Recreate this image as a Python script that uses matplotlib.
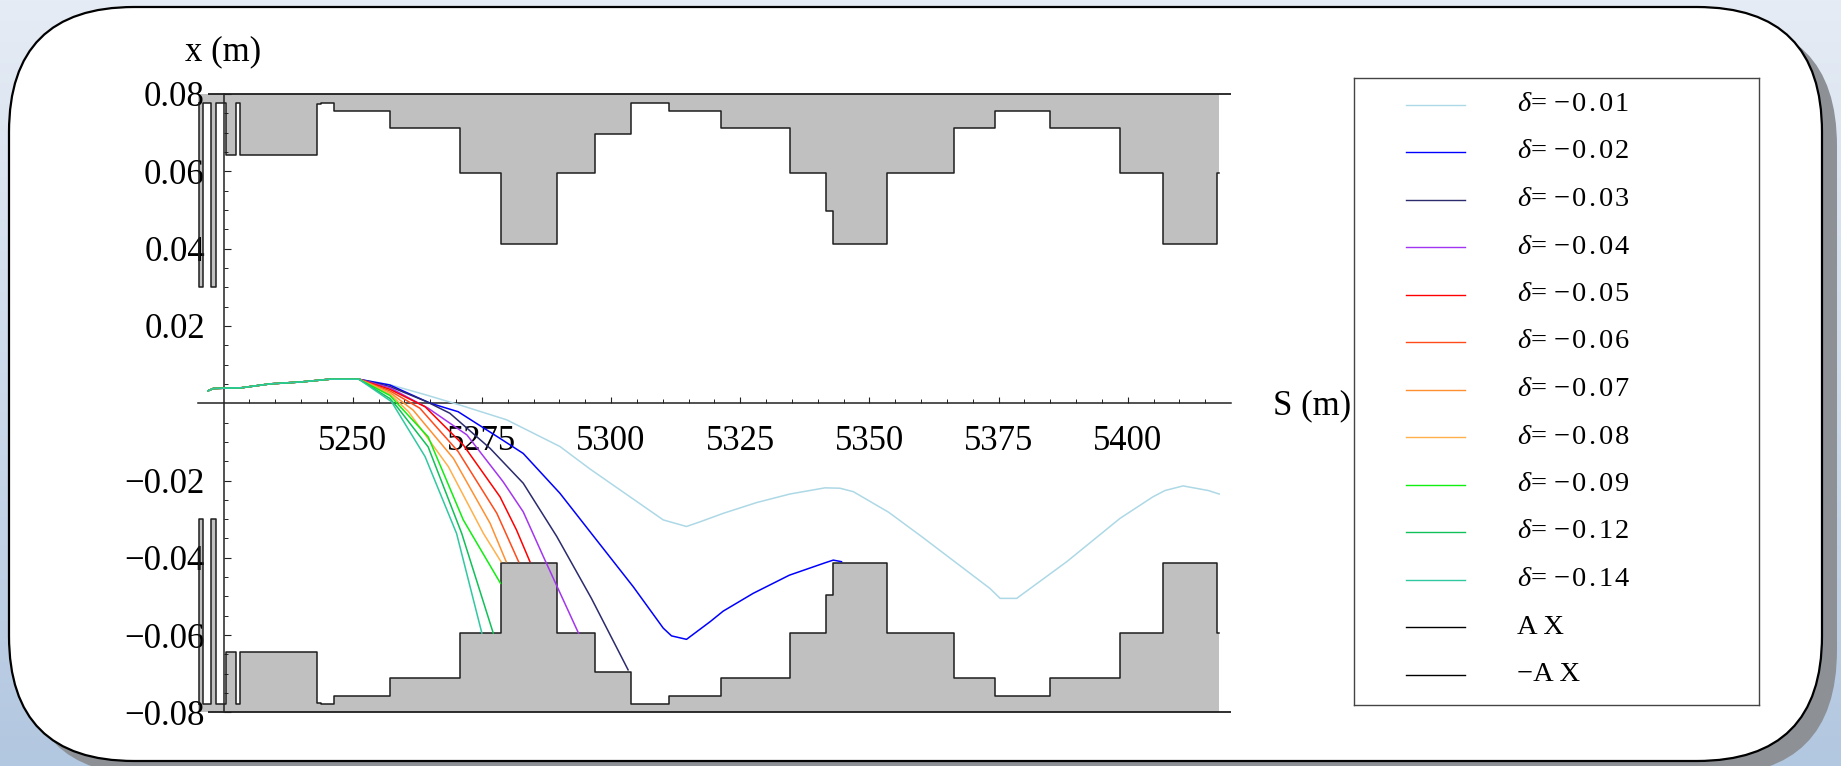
import numpy as np
import matplotlib
matplotlib.use("Agg")
import matplotlib.pyplot as plt
from matplotlib.patches import FancyBboxPatch
from matplotlib.ticker import FixedLocator, FuncFormatter
import matplotlib.transforms as mtransforms

plt.rcParams['font.family'] = ['Liberation Serif', 'DejaVu Serif']
plt.rcParams['mathtext.fontset'] = 'custom'
plt.rcParams['mathtext.rm'] = 'Liberation Serif'
plt.rcParams['mathtext.it'] = 'Liberation Serif:italic'

# ---------------- aperture AX(s) (step function, value holds until next s) ----
ap_s = [5220.0, 5220.3, 5221.0, 5222.5, 5223.5, 5225.4, 5227.35, 5228.2, 5243.0,
        5243.9, 5246.45, 5257.2, 5270.8, 5278.65, 5289.5, 5296.9, 5303.9, 5311.2,
        5321.2, 5334.7, 5341.6, 5342.9, 5353.4, 5366.45, 5374.3, 5385.0, 5398.5,
        5406.8, 5417.3, 5417.7]
ap_x = [0.0778, 0.030, 0.0778, 0.030, 0.0778, 0.0643, 0.0778, 0.0643, 0.0775,
        0.0778, 0.0757, 0.0711, 0.0595, 0.0413, 0.0595, 0.0696, 0.0778, 0.0757,
        0.0711, 0.0595, 0.0497, 0.0413, 0.0595, 0.0711, 0.0757, 0.0711, 0.0595,
        0.0413, 0.0595, 0.0595]
pipe_half = 0.08

# ---------------- closed-orbit offset shared by all energies --------------------
s_common = [5222.0, 5223.0, 5228.5, 5234.0, 5240.0, 5245.5, 5251.2]
x_common = [0.0032, 0.0038, 0.0040, 0.0050, 0.0055, 0.0062, 0.0062]

# ---------------- off-momentum trajectories after the kick ----------------------
s_d01 = [5257.2, 5264.3, 5270.8, 5279.8, 5290.1, 5295.9, 5310.1, 5314.6, 5317.2,
         5321.7, 5328.2, 5334.6, 5341.4, 5344.3, 5346.9, 5353.7, 5360.1, 5373.3,
         5375.3, 5378.5, 5388.2, 5398.5, 5404.9, 5407.2, 5410.7, 5415.6, 5417.7]
x_d01 = [0.0048, 0.0021, -0.0005, -0.0043, -0.0112, -0.0170, -0.0302, -0.0319, -0.0307,
         -0.0285, -0.0257, -0.0235, -0.0219, -0.0220, -0.0229, -0.0282, -0.0345, -0.0479,
         -0.0505, -0.0505, -0.0410, -0.0298, -0.0242, -0.0226, -0.0214, -0.0226, -0.0235]

s_d02 = [5257.2, 5265.0, 5270.4, 5278.5, 5283.0, 5290.1, 5295.9, 5304.3, 5310.1,
         5311.7, 5314.6, 5319.2, 5321.7, 5327.5, 5334.5, 5341.4, 5343.0, 5344.6]
x_d02 = [0.0047, 0.0000, -0.0022, -0.0091, -0.0130, -0.0233, -0.0332, -0.0475, -0.0582,
         -0.0602, -0.0611, -0.0565, -0.0538, -0.0492, -0.0445, -0.0413, -0.0406, -0.0410]

s_d03 = [5257.2, 5264.3, 5268.8, 5276.6, 5283.0, 5289.5, 5296.2, 5303.3]
x_d03 = [0.0043, 0.0004, -0.0026, -0.0117, -0.0207, -0.0345, -0.0505, -0.0690]

s_d04 = [5257.2, 5264.6, 5272.1, 5279.1, 5283.0, 5286.9, 5293.7]
x_d04 = [0.0040, -0.0013, -0.0082, -0.0203, -0.0281, -0.0397, -0.0595]

s_d05 = [5257.2, 5264.0, 5271.4, 5278.5, 5281.7, 5284.3]
x_d05 = [0.0036, -0.0009, -0.0108, -0.0242, -0.0328, -0.0410]

s_d06 = [5257.2, 5263.0, 5270.4, 5277.9, 5282.1]
x_d06 = [0.0032, -0.0013, -0.0125, -0.0285, -0.0410]

s_d07 = [5257.2, 5261.7, 5269.5, 5276.6, 5279.7]
x_d07 = [0.0028, -0.0018, -0.0143, -0.0311, -0.0410]

s_d08 = [5257.2, 5260.8, 5268.5, 5275.3, 5278.7]
x_d08 = [0.0024, -0.0022, -0.0164, -0.0337, -0.0410]

s_d09 = [5257.2, 5260.1, 5264.6, 5271.4, 5278.6]
x_d09 = [0.0020, -0.0022, -0.0087, -0.0302, -0.0466]

s_d12 = [5257.2, 5258.8, 5264.6, 5271.1, 5277.2]
x_d12 = [0.0012, -0.0013, -0.0113, -0.0337, -0.0595]

s_d14 = [5257.5, 5264.0, 5270.1, 5275.0]
x_d14 = [0.0004, -0.0138, -0.0337, -0.0595]

delta_labels = ['\u22120.01', '\u22120.02', '\u22120.03', '\u22120.04', '\u22120.05',
                '\u22120.06', '\u22120.07', '\u22120.08', '\u22120.09', '\u22120.12',
                '\u22120.14']
delta_colors = ['#add8e6', '#0000ff', '#2b2b6e', '#a335f0', '#ff0000', '#ff4a1a',
                '#ff9030', '#ffb04a', '#10ee10', '#10c058', '#30c8a0']
traj_s = [s_d01, s_d02, s_d03, s_d04, s_d05, s_d06, s_d07, s_d08, s_d09, s_d12, s_d14]
traj_x = [x_d01, x_d02, x_d03, x_d04, x_d05, x_d06, x_d07, x_d08, x_d09, x_d12, x_d14]

x_major = [5250, 5275, 5300, 5325, 5350, 5375, 5400]
y_major = [-0.08, -0.06, -0.04, -0.02, 0.02, 0.04, 0.06, 0.08]

# ---------------- canvas --------------------------------------------------------
W, H = 1841, 766
fig = plt.figure(figsize=(W / 100, H / 100), dpi=100)

bg = fig.add_axes([0, 0, 1, 1])
bg.set_xlim(0, W)
bg.set_ylim(H, 0)
bg.axis('off')
top_c = np.array([230, 236, 245]) / 255
bot_c = np.array([178, 199, 224]) / 255
t = np.linspace(0, 1, H)[:, None, None]
grad = top_c[None, None, :] * (1 - t) + bot_c[None, None, :] * t
bg.imshow(grad, extent=[0, W, H, 0], aspect='auto', zorder=0)
bx, by, bw, bh, rad = 9, 7, 1813, 754, 125
bg.add_patch(FancyBboxPatch((bx + 15, by + 14), bw, bh,
                            boxstyle=f'round,pad=0,rounding_size={rad}',
                            fc='#8d9196', ec='none', zorder=1))
bg.add_patch(FancyBboxPatch((bx, by), bw, bh,
                            boxstyle=f'round,pad=0,rounding_size={rad}',
                            fc='white', ec='black', lw=1.6, zorder=2))

# ---------------- main plot -----------------------------------------------------
x0, x1, y0, y1 = 197.7, 1231.1, 94.0, 712.4
ax = fig.add_axes([x0 / W, 1 - y1 / H, (x1 - x0) / W, (y1 - y0) / H])
ax.patch.set_alpha(0)
ax.set_xlim(5220, 5420)
ax.set_ylim(-pipe_half, pipe_half)

ap_s_arr = np.array(ap_s)
ap_x_arr = np.array(ap_x)
ax.fill_between(ap_s_arr, ap_x_arr, pipe_half, step='post', color='#c0c0c0', lw=0, zorder=1)
ax.fill_between(ap_s_arr, -ap_x_arr, -pipe_half, step='post', color='#c0c0c0', lw=0, zorder=1)
ax.step(ap_s_arr, ap_x_arr, where='post', color='#1e1e1e', lw=1.1, zorder=2)
ax.step(ap_s_arr, -ap_x_arr, where='post', color='#1e1e1e', lw=1.1, zorder=2)
ax.hlines([pipe_half, -pipe_half], 5222.0, 5420, color='#1e1e1e', lw=1.3,
          zorder=2, clip_on=False)

lines = []
for s_part, x_part, col in zip(traj_s, traj_x, delta_colors):
    ln, = ax.plot(s_common + s_part, x_common + x_part, color=col, lw=1.1, zorder=3)
    lines.append(ln)

for side in ('top', 'right'):
    ax.spines[side].set_visible(False)
ax.spines['left'].set_position(('data', 5225))
ax.spines['bottom'].set_position(('data', 0))
for side in ('left', 'bottom'):
    ax.spines[side].set_color('#222222')
    ax.spines[side].set_linewidth(1.1)
    ax.spines[side].set_zorder(2.5)

ax.xaxis.set_major_locator(FixedLocator(x_major))
ax.xaxis.set_minor_locator(FixedLocator([v for v in range(5230, 5420, 5) if v not in x_major]))
ax.yaxis.set_major_locator(FixedLocator(y_major))
ax.yaxis.set_minor_locator(FixedLocator([v / 1000 for v in range(-75, 80, 5)
                                         if v != 0 and v % 20 != 0]))
ax.xaxis.set_major_formatter(FuncFormatter(lambda v, p: f'{v:.0f}'))
ax.yaxis.set_major_formatter(FuncFormatter(lambda v, p: f'{v:.2f}'.replace('-', '\u2212')))
ax.tick_params(axis='x', which='major', direction='in', length=4.4, width=0.8,
               color='#222222', labelsize=25, pad=15.5)
ax.tick_params(axis='x', which='minor', direction='in', length=2.8, width=0.7, color='#222222')
ax.tick_params(axis='y', which='major', direction='in', length=5.2, width=0.8,
               color='#222222', labelsize=25, pad=13.5)
ax.tick_params(axis='y', which='minor', direction='in', length=2.8, width=0.7, color='#222222')

ax.text(5225, 1.068, 'x (m)', transform=mtransforms.blended_transform_factory(ax.transData, ax.transAxes),
        ha='center', va='center', fontsize=25)
ax.text(1.041, -0.0008, 'S (m)', transform=mtransforms.blended_transform_factory(ax.transAxes, ax.transData),
        ha='left', va='center', fontsize=25, clip_on=False)

# ---------------- legend --------------------------------------------------------
lx0, lx1, ly0, ly1 = 1354, 1759, 78, 705
lax = fig.add_axes([lx0 / W, 1 - ly1 / H, (lx1 - lx0) / W, (ly1 - ly0) / H])
lax.set_xlim(0, lx1 - lx0)
lax.set_ylim(ly1 - ly0, 0)
lax.set_xticks([])
lax.set_yticks([])
for sp in lax.spines.values():
    sp.set_color('#444444')
    sp.set_linewidth(1.0)


def spaced(txt, gap='\u200a'):
    return gap.join(txt)


entries = [(r'$\delta$= ' + spaced(lab), col) for lab, col in zip(delta_labels, delta_colors)]
entries += [(spaced('AX', '\u2009'), '#000000'), ('\u2212' + spaced('AX', '\u2009'), '#000000')]
for i, (lab, col) in enumerate(entries):
    yy = 26.5 + 47.5 * i
    lax.plot([52, 111], [yy, yy], color=col, lw=1.0)
    lax.text(163, yy, lab, ha='left', va='center', fontsize=20.5)

fig.savefig('out.png', dpi=100)
